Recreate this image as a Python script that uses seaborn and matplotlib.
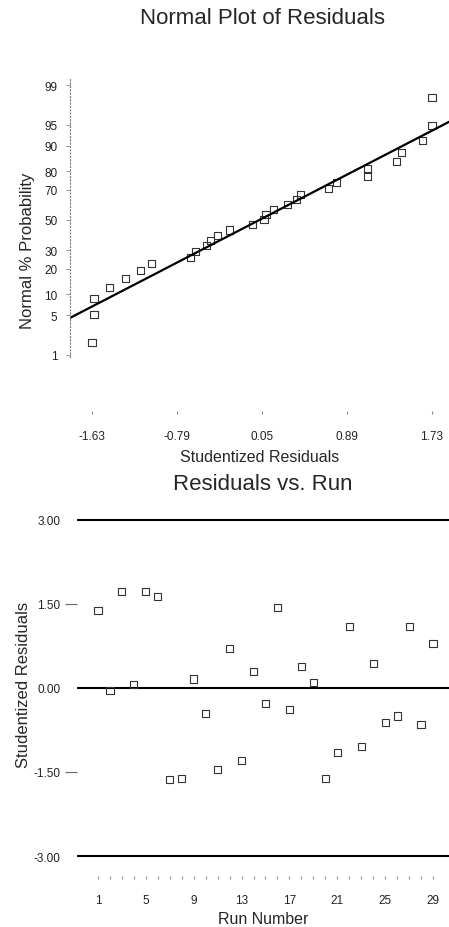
import numpy as np
import pandas as pd
import matplotlib
matplotlib.use("Agg")
import matplotlib.pyplot as plt
import seaborn as sns
from statistics import NormalDist

# ---------------- data ----------------
runs = list(range(1, 30))
residuals = [1.38, -0.04, 1.73, 0.07, 1.73, 1.64, -1.63, -1.61, 0.16, -0.46,
             -1.46, 0.71, -1.30, 0.30, -0.27, 1.43, -0.39, 0.39, 0.09, -1.61,
             -1.15, 1.09, -1.04, 0.43, -0.61, -0.50, 1.09, -0.66, 0.79]

prob_ticks = [1, 5, 10, 20, 30, 50, 70, 80, 90, 95, 99]
resid_ticks = [-1.63, -0.79, 0.05, 0.89, 1.73]
resid_tick_labels = ["-1.63", "-0.79", "0.05", "0.89", "1.73"]
fit_x = [-1.85, 1.90]
fit_pct = [4.5, 95.5]

run_ticks = [1, 5, 9, 13, 17, 21, 25, 29]
limit_lines = [3.0, 0.0, -3.0]
resid_y_ticks = [3.0, 1.5, 0.0, -1.5, -3.0]
resid_y_labels = ["3.00", "1.50", "0.00", "-1.50", "-3.00"]

# ---------------- style ----------------
sns.set_theme(style="white")
plt.rcParams['font.family'] = ['Liberation Sans', 'DejaVu Sans']

W, H = 449, 928
fig = plt.figure(figsize=(W / 100, H / 100), dpi=100)


def ax_rect(x0, y0, x1, y1):
    return [x0 / W, 1 - y1 / H, (x1 - x0) / W, (y1 - y0) / H]


nd = NormalDist()
z = lambda p: nd.inv_cdf(p / 100.0)

# ---------------- top: normal plot ----------------
ax1 = fig.add_axes(ax_rect(70, 75, 449, 412))
n = len(residuals)
sorted_res = sorted(residuals)
pct = [(i + 0.5) / n * 100 for i in range(n)]
df_np = pd.DataFrame({"res": sorted_res, "z": [z(p) for p in pct]})
df_fit = pd.DataFrame({"x": fit_x, "z": [z(p) for p in fit_pct]})

sns.lineplot(data=df_fit, x="x", y="z", color="black", linewidth=1.6, ax=ax1)
sns.scatterplot(data=df_np, x="res", y="z", marker="s", s=26,
                facecolor="none", edgecolor="#333333", linewidth=0.8, ax=ax1)
ax1.collections[-1].set_facecolor("none")

ax1.set_xlim(-1.847, 1.898)
ax1.set_ylim(-3.30, 2.52)
ax1.set_yticks([z(p) for p in prob_ticks])
ax1.set_yticklabels([str(p) for p in prob_ticks])
ax1.set_xticks(resid_ticks)
ax1.set_xticklabels(resid_tick_labels)
for s in ["top", "right", "bottom"]:
    ax1.spines[s].set_visible(False)
ax1.spines["left"].set_linestyle((0, (1, 2)))
ax1.spines["left"].set_linewidth(0.8)
ax1.spines["left"].set_color("#777777")
ax1.spines["left"].set_bounds(z(0.9), z(99.3))
ax1.tick_params(axis="y", length=3, width=0.6, color="#888888", pad=6,
                labelsize=8.5, labelcolor="#222222", left=True)
ax1.tick_params(axis="x", length=2, width=0.8, color="#888888", pad=12,
                labelsize=8.5, labelcolor="#222222", bottom=True)
ax1.set_xlabel("Studentized Residuals", fontsize=11.5)
ax1.set_ylabel("Normal % Probability", fontsize=12)
ax1.xaxis.set_label_coords(0.501, -0.113)
ax1.yaxis.set_label_coords(-0.092, 0.478)
ax1.grid(False)

fig.text(262 / W, 1 - 18 / H, "Normal Plot of Residuals", ha="center",
         va="center", fontsize=16)

# ---------------- bottom: residuals vs run ----------------
ax2 = fig.add_axes(ax_rect(77, 510, 449, 877))
df_run = pd.DataFrame({"run": runs, "res": residuals})
for yv in limit_lines:
    ax2.axhline(yv, color="black", linewidth=1.5, zorder=1)
sns.scatterplot(data=df_run, x="run", y="res", marker="s", s=26,
                facecolor="none", edgecolor="#333333", linewidth=0.8,
                ax=ax2, zorder=3)
ax2.collections[-1].set_facecolor("none")

ax2.set_xlim(-0.756, 30.34)
ax2.set_ylim(-3.357, 3.196)
ax2.set_xticks(run_ticks)
ax2.set_xticks(runs, minor=True)
ax2.set_yticks(resid_y_ticks)
ax2.set_yticklabels(resid_y_labels)
for s in ["top", "right", "bottom", "left"]:
    ax2.spines[s].set_visible(False)
ax2.tick_params(axis="y", length=9, width=0.8, color="#666666", pad=3,
                labelsize=8.5, labelcolor="#222222", left=True)
for i, yv in enumerate(resid_y_ticks):
    if yv in limit_lines:
        ax2.yaxis.get_major_ticks()[i].tick1line.set_visible(False)
ax2.tick_params(axis="x", which="both", length=2, width=0.8, color="#999999",
                pad=11, labelsize=8.5, labelcolor="#222222", bottom=True)
ax2.set_xlabel("Run Number", fontsize=11.5)
ax2.set_ylabel("Studentized Residuals", fontsize=12)
ax2.xaxis.set_label_coords(0.5, -0.095)
ax2.yaxis.set_label_coords(-0.124, 0.522)
ax2.grid(False)

fig.text(263 / W, 1 - 485 / H, "Residuals vs. Run", ha="center",
         va="center", fontsize=16)

fig.savefig("out.png", dpi=100)
